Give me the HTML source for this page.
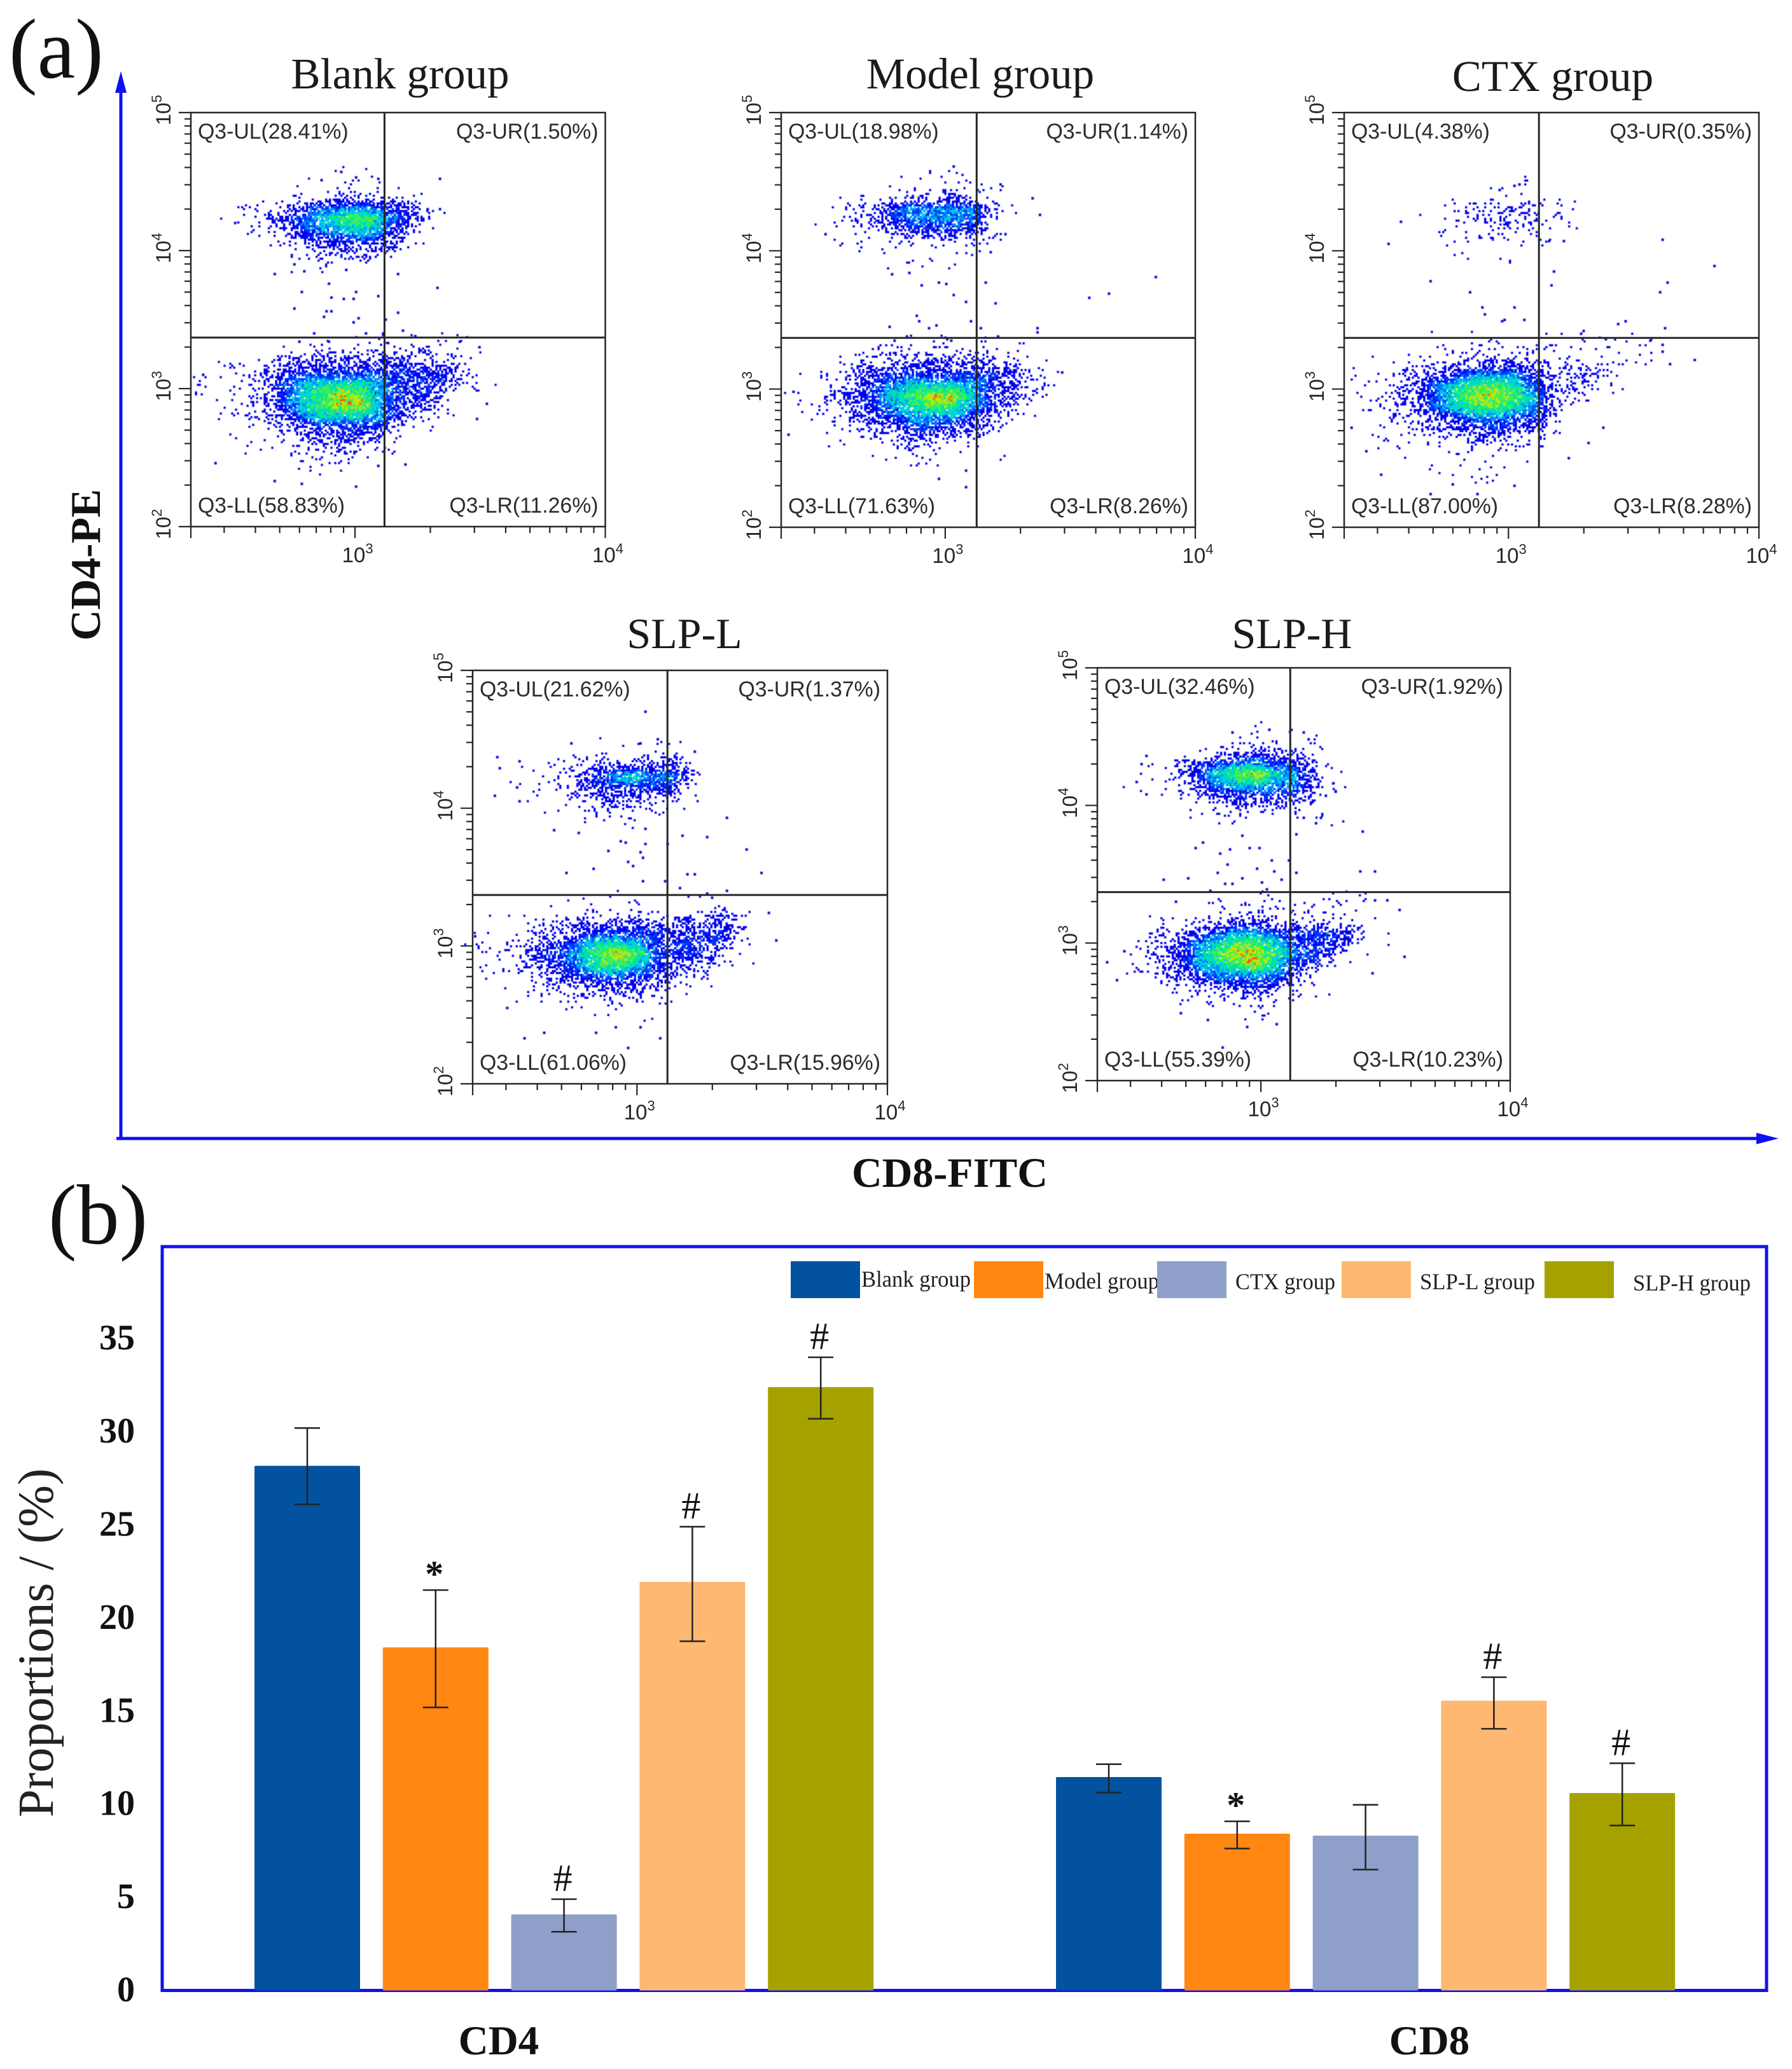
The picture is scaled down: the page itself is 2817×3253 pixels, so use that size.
<!DOCTYPE html>
<html lang="en">
<head>
<meta charset="utf-8">
<title>CD4 and CD8 flow cytometry proportions</title>
<style>
html,body{margin:0;padding:0;background:#fff;width:2817px;height:3253px;overflow:hidden}
svg{display:block}
.serif{font-family:"Liberation Serif",serif}
.sans{font-family:"Liberation Sans",sans-serif}
</style>
</head>
<body>
<svg id="root" xmlns="http://www.w3.org/2000/svg" width="2817" height="3253" viewBox="0 0 2817 3253">
<defs><filter id="soft" x="-2%" y="-2%" width="104%" height="104%"><feGaussianBlur stdDeviation="0.6"/></filter></defs>
<rect x="0" y="0" width="2817" height="3253" fill="#fff"/>
<text class="serif" x="14" y="122" font-size="134" fill="#111">(a)</text>
<text class="serif" x="76" y="1955" font-size="134" fill="#111">(b)</text>

<g fill="#0f0ff0" stroke="none">
<rect x="187.5" y="140" width="5" height="1652"/>
<polygon points="190,112 181,146 199,146"/>
<rect x="183" y="1787.5" width="2585" height="5"/>
<polygon points="2796,1790 2761,1781 2761,1799"/>
</g>
<text class="serif" font-weight="bold" font-size="67" fill="#111" text-anchor="middle" transform="translate(157 888) rotate(-90)">CD4-PE</text>
<text class="serif" font-weight="bold" font-size="66" fill="#111" text-anchor="middle" x="1493" y="1866">CD8-FITC</text>

<text class="serif" font-size="69" fill="#1a1a1a" text-anchor="middle" x="629" y="139">Blank group</text>
<text class="serif" font-size="69" fill="#1a1a1a" text-anchor="middle" x="1541" y="139">Model group</text>
<text class="serif" font-size="69" fill="#1a1a1a" text-anchor="middle" x="2441" y="143">CTX group</text>
<text class="serif" font-size="68" fill="#1a1a1a" text-anchor="middle" x="1076" y="1019">SLP-L</text>
<text class="serif" font-size="68" fill="#1a1a1a" text-anchor="middle" x="2031" y="1019">SLP-H</text>

<g id="scatter-layer"></g>

<rect x="255" y="1960" width="2522" height="1169.5" fill="none" stroke="#1010ee" stroke-width="5"/>
<g id="bar-layer"></g>
<g id="legend-layer"></g>
<text class="serif" font-size="79" fill="#222" text-anchor="middle" transform="translate(83 2583) rotate(-90)">Proportions / (%)</text>
</svg>

<script>
/* ---------- bar chart values ---------- */
const barGroups = ['CD4', 'CD8'];
const seriesNames = ['Blank group', 'Model group', 'CTX group', 'SLP-L group', 'SLP-H group'];
const seriesColors = ['#03529f', '#ff8712', '#8e9fca', '#feb871', '#a5a200'];
const cd4Means = [28.17, 18.42, 4.08, 21.94, 32.4];
const cd4ErrUpper = [30.2, 21.5, 4.9, 24.9, 34.0];
const cd4ErrLower = [26.1, 15.2, 3.15, 18.75, 30.7];
const cd4Marks = ['', '*', '#', '#', '#'];
const cd8Means = [11.46, 8.42, 8.31, 15.56, 10.6];
const cd8ErrUpper = [12.15, 9.08, 9.97, 16.82, 12.2];
const cd8ErrLower = [10.62, 7.62, 6.49, 14.05, 8.86];
const cd8Marks = ['', '*', '', '#', '#'];
const proportionTicks = [0, 5, 10, 15, 20, 25, 30, 35];

/* ---------- flow panels: quadrant percentages [UL, UR, LL, LR] ---------- */
const blankQuadrants = ['28.41', '1.50', '58.83', '11.26'];
const modelQuadrants = ['18.98', '1.14', '71.63', '8.26'];
const ctxQuadrants = ['4.38', '0.35', '87.00', '8.28'];
const slpLQuadrants = ['21.62', '1.37', '61.06', '15.96'];
const slpHQuadrants = ['32.46', '1.92', '55.39', '10.23'];

/* Density level (0-9) of events per log10 bin.
   Lower cloud rows: log10 CD4 3.32..2.36, columns: log10 CD8 2.40..3.52.
   Upper cloud rows: log10 CD4 4.56..3.92, columns: log10 CD8 2.48..3.44. */
const blankLowerDensity = [
[0,0,0,0,0,0,1,1,1,1,1,1,1,1,0],
[0,0,0,0,1,1,2,2,2,2,2,2,1,1,0],
[0,1,1,1,3,3,4,4,4,4,4,3,3,2,1],
[1,1,2,3,4,5,5,5,5,5,5,5,5,3,1],
[1,1,2,3,5,6,7,7,7,6,5,5,5,3,1],
[1,1,2,3,5,7,8,9,8,6,5,5,3,1,1],
[0,1,2,3,5,7,8,9,9,6,5,4,2,1,0],
[0,1,2,3,4,6,7,7,7,6,4,2,1,0,0],
[0,0,1,2,3,4,5,5,5,5,2,1,0,0,0],
[0,0,1,1,2,3,4,4,4,3,1,0,0,0,0],
[0,0,0,1,1,2,2,3,2,1,0,0,0,0,0],
[0,0,0,0,1,1,1,2,1,1,0,0,0,0,0],
[0,0,0,0,0,1,1,1,1,0,0,0,0,0,0]];
const blankUpperDensity = [
[0,0,0,0,0,1,1,1,0,0,0,0,0],
[0,0,0,0,1,1,1,1,1,0,0,0,0],
[0,0,0,1,2,2,3,3,2,1,0,0,0],
[0,1,2,3,5,6,6,6,5,4,1,0,0],
[1,2,4,5,6,7,8,8,6,5,1,0,0],
[0,1,3,4,6,6,7,7,5,3,1,0,0],
[0,0,1,3,4,5,5,5,4,2,0,0,0],
[0,0,0,1,2,3,3,3,3,1,0,0,0],
[0,0,0,1,1,2,2,1,1,0,0,0,0]];
const modelLowerDensity = [
[0,0,0,0,1,1,1,1,1,1,1,0,0,0,0],
[0,0,0,1,1,2,2,2,2,2,2,1,1,0,0],
[0,0,1,2,3,3,4,4,4,4,3,2,1,1,0],
[0,1,2,3,4,5,5,5,5,5,5,4,3,1,0],
[1,1,2,4,5,6,7,7,7,6,5,4,2,1,0],
[1,1,3,4,5,7,8,9,9,7,5,4,2,0,0],
[1,1,2,4,5,6,7,8,8,6,5,3,1,0,0],
[0,1,2,3,4,5,6,6,6,5,3,2,0,0,0],
[0,0,1,2,3,3,5,5,4,4,2,1,0,0,0],
[0,0,1,1,2,2,3,3,3,2,1,0,0,0,0],
[0,0,0,0,1,1,2,1,1,1,1,0,0,0,0],
[0,0,0,0,0,1,1,1,0,0,0,0,0,0,0],
[0,0,0,0,0,0,0,0,0,0,0,0,0,0,0]];
const modelUpperDensity = [
[0,0,0,0,0,0,1,1,0,0,0,0,0],
[0,0,0,0,1,1,1,1,1,1,0,0,0],
[0,0,1,1,2,3,3,3,2,1,0,0,0],
[0,1,2,3,5,6,6,6,6,3,1,0,0],
[0,1,2,3,5,6,6,6,6,3,1,0,0],
[0,1,1,2,4,5,5,5,5,2,0,0,0],
[0,1,1,1,2,2,2,2,2,1,0,0,0],
[0,0,0,1,1,1,1,1,1,1,0,0,0],
[0,0,0,0,1,1,1,1,0,0,0,0,0]];
const ctxLowerDensity = [
[0,0,0,0,1,1,1,1,1,1,1,1,1,1,1],
[0,0,0,1,1,1,2,2,2,1,1,1,1,1,1],
[0,1,1,2,2,3,4,4,4,3,2,2,2,2,1],
[1,1,2,3,4,5,6,6,6,4,3,3,3,1,0],
[1,1,3,4,6,7,8,8,7,5,3,3,2,1,0],
[1,2,3,4,6,8,9,9,8,6,3,2,1,0,0],
[1,1,2,4,6,7,8,8,7,6,3,1,0,0,0],
[0,1,2,3,4,5,6,6,5,5,2,1,0,0,0],
[0,1,1,2,3,4,4,5,4,3,1,0,0,0,0],
[0,1,1,1,2,2,3,3,2,2,1,0,0,0,0],
[0,0,1,1,1,1,1,1,1,1,0,0,0,0,0],
[0,0,0,0,1,1,1,1,1,0,0,0,0,0,0],
[0,0,0,0,0,1,1,1,0,0,0,0,0,0,0]];
const ctxUpperDensity = [
[0,0,0,0,0,0,0,0,0,0,0,0,0],
[0,0,0,0,0,0,0,1,0,0,0,0,0],
[0,0,0,0,1,1,1,1,1,0,0,0,0],
[0,0,0,1,2,2,3,3,2,1,0,0,0],
[0,0,1,1,2,3,3,3,2,2,0,0,0],
[0,0,1,1,2,2,2,2,1,1,0,0,0],
[0,0,0,1,1,1,1,1,1,0,0,0,0],
[0,0,0,0,1,0,1,1,0,0,0,0,0],
[0,0,0,0,1,1,1,1,0,0,0,0,0]];
const slpLLowerDensity = [
[0,0,0,0,0,0,0,1,1,0,0,1,1,0,0],
[0,0,0,1,1,1,1,1,1,1,1,1,2,1,0],
[0,1,1,2,2,3,3,4,4,3,3,3,4,3,1],
[0,1,2,3,3,4,5,5,5,5,4,5,5,3,1],
[1,1,2,4,4,6,7,7,6,5,5,5,5,2,1],
[1,1,3,5,5,7,8,9,8,5,5,5,3,1,0],
[1,1,2,4,5,6,8,8,7,5,4,3,2,1,0],
[1,1,2,3,4,5,6,6,5,5,3,2,1,0,0],
[0,1,1,2,3,3,4,4,4,4,2,1,0,0,0],
[0,0,1,1,2,2,2,3,3,2,1,0,0,0,0],
[0,0,0,1,1,1,1,1,1,1,1,0,0,0,0],
[0,0,0,0,0,0,0,1,1,0,0,0,0,0,0],
[0,0,0,0,0,0,0,0,0,0,0,0,0,0,0]];
const slpLUpperDensity = [
[0,0,0,0,0,0,0,0,0,0,0,0,0],
[0,0,0,0,0,1,1,1,1,0,0,0,0],
[0,0,0,1,1,1,1,1,2,1,0,0,0],
[0,1,2,2,3,4,4,4,4,2,0,0,0],
[1,1,2,3,5,6,7,6,6,3,0,0,0],
[0,1,2,2,4,5,5,5,5,2,0,0,0],
[0,1,1,2,3,4,4,3,3,1,0,0,0],
[0,0,1,1,2,2,2,2,1,1,0,0,0],
[0,0,0,0,1,1,1,1,0,0,0,0,0]];
const slpHLowerDensity = [
[0,0,0,0,0,1,0,1,1,1,1,1,1,1,0],
[0,0,0,0,1,1,2,2,2,1,1,2,1,1,0],
[0,0,1,1,2,3,4,4,3,2,2,2,2,1,0],
[0,1,2,3,4,5,6,6,5,5,5,5,4,1,0],
[0,1,2,4,6,7,8,8,7,5,5,5,3,1,0],
[1,1,3,4,6,8,9,9,8,6,5,4,1,1,1],
[0,1,2,4,6,7,8,9,7,5,4,2,1,0,0],
[0,1,2,3,5,6,6,6,6,4,2,0,0,0,0],
[0,0,1,2,3,4,4,5,4,2,1,0,0,0,0],
[0,0,0,1,2,2,2,3,2,1,1,0,0,0,0],
[0,0,0,0,0,1,1,1,1,0,0,0,0,0,0],
[0,0,0,0,0,0,1,1,0,0,0,0,0,0,0],
[0,0,0,0,0,0,0,0,0,0,0,0,0,0,0]];
const slpHUpperDensity = [
[0,0,0,0,0,0,1,0,1,0,0,0,0],
[0,0,0,0,0,1,1,1,1,1,0,0,0],
[0,0,0,1,2,3,4,3,2,1,0,0,0],
[0,1,2,4,5,6,6,5,5,3,1,0,0],
[1,1,3,5,7,8,9,7,6,4,1,0,0],
[1,1,2,4,6,7,7,6,6,3,1,1,0],
[0,1,1,2,4,5,5,5,5,2,1,0,0],
[0,0,0,1,2,3,3,3,3,1,0,0,0],
[0,0,0,1,1,1,1,1,1,1,1,0,0]];

/* Isolated events as [log10 CD8, log10 CD4] */
const blankOutliers = [[2.93,4.57],[2.99,4.53],[3.33,4.52],[2.85,4.51],[3.08,4.52],[3.33,4.30],[3.28,4.30],[2.50,4.20],[2.66,3.83],[2.78,3.85],[2.95,3.86],[3.16,3.83],[2.74,3.90],[3.32,3.73],[2.88,3.76],[2.77,3.70],[2.99,3.70],[2.94,3.65],[2.98,3.65],[2.89,3.66],[3.08,3.67],[2.74,3.58],[2.87,3.56],[2.89,3.56],[2.86,3.52],[3.00,3.51],[2.98,3.48],[3.16,3.55],[3.11,3.50],[3.18,3.42],[2.82,3.40],[3.03,3.40],[3.23,3.38],[2.76,3.34],[2.88,3.34],[3.12,3.33],[3.41,3.34],[3.49,3.30],[3.52,2.89],[3.48,2.78],[2.37,3.10],[2.42,2.46],[2.66,2.33],[2.77,2.31],[2.99,2.29],[3.19,2.45],[3.08,2.44]];
const modelOutliers = [[3.02,4.61],[2.50,4.12],[3.84,3.81],[3.65,3.69],[3.57,3.66],[3.37,4.26],[3.34,4.38],[3.21,4.48],[3.19,3.62],[3.15,3.77],[3.07,3.63],[3.02,3.68],[2.89,3.75],[2.96,3.77],[2.99,3.76],[2.87,3.53],[2.88,3.49],[2.76,3.45],[2.92,3.44],[2.95,3.46],[3.09,3.49],[3.13,3.44],[3.36,3.44],[3.36,3.41],[3.20,3.38],[2.83,3.38],[2.78,3.35],[3.01,3.35],[3.17,3.99],[3.23,4.12],[2.77,3.83],[2.84,3.84],[2.37,2.98],[2.35,2.67],[2.96,2.35],[3.07,2.29],[3.46,3.12],[3.07,2.41]];
const ctxOutliers = [[3.03,4.48],[3.01,4.47],[2.95,4.44],[2.50,4.05],[2.55,4.21],[3.61,4.08],[3.82,3.89],[3.63,3.77],[3.60,3.70],[3.21,4.07],[3.15,4.07],[3.17,3.85],[3.16,3.75],[2.67,3.78],[2.83,3.70],[3.01,3.59],[2.88,3.59],[2.89,3.54],[2.96,3.49],[2.97,3.50],[3.05,3.50],[3.29,3.42],[3.28,3.40],[3.43,3.47],[3.46,3.49],[3.62,3.44],[3.74,3.21],[3.64,3.18],[3.56,3.35],[3.61,3.32],[3.61,3.27],[3.38,3.36],[3.31,2.61],[3.23,2.50],[3.37,2.72],[2.41,2.55],[2.47,2.38],[2.76,2.31],[3.01,2.30],[2.67,2.24],[2.86,2.24],[2.35,2.72]];
const slpLOutliers = [[3.02,4.70],[2.72,4.47],[3.07,4.50],[3.00,4.47],[3.22,4.41],[2.42,4.37],[2.43,4.29],[2.51,4.34],[2.41,4.09],[2.50,4.15],[2.51,4.05],[3.35,3.93],[2.65,3.84],[2.75,3.82],[3.27,3.79],[3.17,3.80],[3.43,3.70],[3.49,3.53],[3.19,3.52],[3.22,3.52],[3.16,3.42],[3.35,3.40],[3.27,3.38],[3.29,3.35],[3.10,3.47],[3.01,3.47],[2.70,3.53],[2.81,3.56],[2.87,3.69],[2.92,3.76],[2.94,3.75],[3.02,3.74],[3.00,3.68],[3.01,3.64],[2.95,3.61],[2.97,3.58],[3.02,3.85],[3.11,3.74],[2.33,3.07],[2.46,2.55],[2.61,2.37],[2.53,2.33],[2.82,2.37],[2.95,2.26],[3.08,2.33],[3.00,2.41],[2.90,2.41],[3.55,3.04],[3.52,3.24]];
const slpHOutliers = [[2.87,4.53],[3.02,4.55],[3.16,4.53],[3.18,4.48],[2.52,4.36],[2.48,4.17],[2.50,4.30],[2.52,4.08],[3.29,4.10],[3.28,4.16],[3.25,4.07],[3.23,3.91],[3.21,3.87],[3.16,3.91],[3.40,3.81],[3.13,3.79],[2.91,3.78],[2.75,3.73],[2.72,3.69],[2.86,3.68],[2.94,3.69],[2.98,3.69],[2.82,3.65],[3.03,3.60],[3.10,3.60],[2.85,3.57],[2.97,3.54],[3.04,3.52],[3.13,3.51],[3.39,3.52],[3.45,3.52],[2.81,3.51],[2.69,3.47],[2.59,3.46],[2.91,3.47],[2.99,3.44],[3.07,3.46],[2.84,3.43],[2.87,3.43],[2.78,3.38],[3.01,3.39],[2.64,3.30],[2.36,2.86],[2.40,2.73],[2.43,2.94],[3.57,2.90],[3.55,3.24],[3.50,3.31],[3.45,3.31],[3.44,2.78],[2.83,2.24],[2.93,2.39],[3.05,2.41],[2.77,2.44],[2.66,2.49]];

/* Quadrant gates, log10 CD8 / log10 CD4 */
const gateCd8 = [3.105, 3.113, 3.109, 3.109, 3.105];
const gateCd4 = [3.37, 3.37, 3.37, 3.37, 3.37];
const flowKeys = ['blank', 'model', 'ctx', 'slp-l', 'slp-h'];
const quadrantSets = [blankQuadrants, modelQuadrants, ctxQuadrants, slpLQuadrants, slpHQuadrants];
const lowerSets = [blankLowerDensity, modelLowerDensity, ctxLowerDensity, slpLLowerDensity, slpHLowerDensity];
const upperSets = [blankUpperDensity, modelUpperDensity, ctxUpperDensity, slpLUpperDensity, slpHUpperDensity];
const outlierSets = [blankOutliers, modelOutliers, ctxOutliers, slpLOutliers, slpHOutliers];

/* ---------- layout (not data) ---------- */
const NS = 'http://www.w3.org/2000/svg';
const panelBoxes = [
  {l:300, r:951.5, t:177, b:828},
  {l:1228, r:1879, t:177, b:829},
  {l:2113, r:2765, t:177, b:829},
  {l:743, r:1395, t:1054, b:1704},
  {l:1725, r:2374, t:1050, b:1699}
];
/* per-panel registration of the density grid bins (log10 units) */
const lowerGridShiftX = [-0.03, -0.035, -0.02, -0.05, 0];
const lowerGridShiftY = [0.05, 0.035, 0.035, 0.035, 0.01];
const upperGridShiftX = [0, -0.03, 0, 0, 0];
const X_MIN = 2.344, X_MAX = 4, Y_MIN = 2, Y_MAX = 5;
const INK = '#262626';

function make(tag, attrs, parent, text) {
  const node = document.createElementNS(NS, tag);
  for (const k in attrs) node.setAttribute(k, attrs[k]);
  if (text !== undefined) node.textContent = text;
  parent.appendChild(node);
  return node;
}

/* Axis functions */
function xAxis(box) { return v => box.l + (v - X_MIN) / (X_MAX - X_MIN) * (box.r - box.l); }
function yAxis(box) { return v => box.t + (Y_MAX - v) / (Y_MAX - Y_MIN) * (box.b - box.t); }
/* values were read against a 2.32-based gridline; align them to the drawn decade ticks */
function calibrate(v) { return X_MIN + (v - 2.32) * (X_MAX - X_MIN) / 1.68; }

/* Rendering helpers: a density level becomes dot coverage via ordered noise (dither only) */
const coverage = [0, 0.03, 0.1, 0.24, 0.45, 0.68, 0.85, 0.95, 1, 1];
function dither(i, j, k) { const s = Math.sin(i * 12.9898 + j * 78.233 + k * 37.719) * 43758.5453; return s - Math.floor(s); }
function levelCoverage(v) {
  if (v <= 0) return 0;
  if (v >= 9) return 1;
  const a = Math.floor(v);
  return coverage[a] + (coverage[a + 1] - coverage[a]) * (v - a);
}
const dotBins = ['#0000ee', '#0038ff', '#008cff', '#00cfe6', '#00e890', '#48f040', '#c4e400', '#f05a00'];
function dotBin(t) {
  if (t < 5.2) return 0;
  if (t < 5.9) return 1;
  if (t < 6.5) return 2;
  if (t < 7.2) return 3;
  if (t < 8.0) return 4;
  if (t < 8.8) return 5;
  if (t < 9.5) return 6;
  return 7;
}
function sampleGrid(grid, gx, gy) {
  const rows = grid.length, cols = grid[0].length;
  if (gx < -0.9 || gy < -0.9 || gx > cols - 0.1 || gy > rows - 0.1) return 0;
  const x0 = Math.floor(gx), y0 = Math.floor(gy), fx = gx - x0, fy = gy - y0;
  const at = (r, c) => (r < 0 || c < 0 || r >= rows || c >= cols) ? 0 : grid[r][c];
  return at(y0, x0) * (1 - fx) * (1 - fy) + at(y0, x0 + 1) * fx * (1 - fy) + at(y0 + 1, x0) * (1 - fx) * fy + at(y0 + 1, x0 + 1) * fx * fy;
}

function drawCloud(grid, firstCd8, firstCd4, x, y, parent, seed) {
  const step = 0.08, cols = grid[0].length, rows = grid.length;
  const left = x(calibrate(firstCd8 - step)), right = x(calibrate(firstCd8 + step * cols));
  const top = y(firstCd4 + step), bottom = y(firstCd4 - step * rows);
  const paths = dotBins.map(() => []);
  const colW = x(calibrate(firstCd8 + step)) - x(calibrate(firstCd8));
  const rowH = y(firstCd4 - step) - y(firstCd4);
  const originX = x(calibrate(firstCd8)), originY = y(firstCd4);
  let j = 0;
  for (let py = top; py <= bottom; py += 3, j++) {
    let i = 0;
    for (let px = left; px <= right; px += 3, i++) {
      const v = sampleGrid(grid, (px - originX) / colW, (py - originY) / rowH);
      if (v <= 0.02) continue;
      if (dither(i, j, seed) > levelCoverage(v)) continue;
      const t = v + (dither(i, j, seed + 5) - 0.5) * 1.9;
      paths[dotBin(t)].push('M' + px.toFixed(1) + ' ' + py.toFixed(1) + 'h3.4v3.4h-3.4z');
    }
  }
  paths.forEach((segs, b) => {
    if (!segs.length) return;
    const mark = make('path', {d: segs.join(''), fill: dotBins[b]}, parent);
    
    
  });
}

function rotatedPower(parent, px, py, exponent, name) {
  const label = make('text', {class: 'sans', 'font-size': 32, fill: INK, 'text-anchor': 'middle', transform: 'translate(' + px + ' ' + py + ') rotate(-90)'}, parent);
  
  
  make('tspan', {}, label, '10');
  make('tspan', {'font-size': 22, dy: -14}, label, String(exponent));
}
function flatPower(parent, px, py, exponent, name) {
  const label = make('text', {class: 'sans', 'font-size': 33, fill: INK, 'text-anchor': 'middle', x: px, y: py}, parent);
  
  
  make('tspan', {}, label, '10');
  make('tspan', {'font-size': 22, dy: -14}, label, String(exponent));
}

const scatterLayer = document.getElementById('scatter-layer');
panelBoxes.forEach((box, p) => {
  const key = flowKeys[p];
  const x = xAxis(box), y = yAxis(box);
  const g = make('g', {}, scatterLayer);
  
  

  const dots = make('g', {filter: 'url(#soft)'}, g);
  
  
  drawCloud(lowerSets[p], 2.40 + lowerGridShiftX[p], 3.32 + lowerGridShiftY[p], x, y, dots, p * 3 + 1);
  drawCloud(upperSets[p], 2.48 + upperGridShiftX[p], 4.56, x, y, dots, p * 3 + 2);
  outlierSets[p].forEach(pt => {
    const dot = make('rect', {x: x(calibrate(pt[0])) - 2, y: y(pt[1]) - 2, width: 4, height: 4, fill: '#0a0ae0'}, dots);
    
    
  });

  const frame = make('rect', {x: box.l, y: box.t, width: box.r - box.l, height: box.b - box.t, fill: 'none', stroke: INK, 'stroke-width': 2.5}, g);
  
  

  const gateV = make('line', {x1: x(calibrate(gateCd8[p])), x2: x(calibrate(gateCd8[p])), y1: box.t, y2: box.b, stroke: INK, 'stroke-width': 3}, g);
  
  
  const gateH = make('line', {x1: box.l, x2: box.r, y1: y(gateCd4[p]), y2: y(gateCd4[p]), stroke: INK, 'stroke-width': 3}, g);
  
  

  /* log ticks */
  for (let d = 2; d <= 4; d++) {
    for (let k = 1; k <= 9; k++) {
      const lv = d + Math.log10(k);
      const major = k === 1;
      const tick = make('line', {x1: box.l - (major ? 19 : 10), x2: box.l, y1: y(lv), y2: y(lv), stroke: INK, 'stroke-width': 2.2}, g);
      
      
      if (lv > X_MIN && lv <= X_MAX) {
        const xt = make('line', {x1: x(lv), x2: x(lv), y1: box.b, y2: box.b + (major ? 18 : 10), stroke: INK, 'stroke-width': 2.2}, g);
        
        
      }
    }
  }
  const startTick = make('line', {x1: box.l, x2: box.l, y1: box.b, y2: box.b + 18, stroke: INK, 'stroke-width': 2.2}, g);
  
  
  const topTick = make('line', {x1: box.l - 19, x2: box.l, y1: y(5), y2: y(5), stroke: INK, 'stroke-width': 2.2}, g);
  
  

  [2, 3, 4, 5].forEach(e => rotatedPower(g, box.l - 32, y(e) - 4, e, 'y-tick-label'));
  [3, 4].forEach(e => flatPower(g, x(e) + 4, box.b + 56, e, 'x-tick-label'));

  const q = quadrantSets[p];
  const quadText = [
    {t: 'Q3-UL(' + q[0] + '%)', x: box.l + 11, y: box.t + 41, a: 'start', n: 'upper-left-percent'},
    {t: 'Q3-UR(' + q[1] + '%)', x: box.r - 11, y: box.t + 41, a: 'end', n: 'upper-right-percent'},
    {t: 'Q3-LL(' + q[2] + '%)', x: box.l + 11, y: box.b - 22, a: 'start', n: 'lower-left-percent'},
    {t: 'Q3-LR(' + q[3] + '%)', x: box.r - 11, y: box.b - 22, a: 'end', n: 'lower-right-percent'}
  ];
  quadText.forEach(o => {
    const label = make('text', {class: 'sans', 'font-size': 33.8, fill: '#2c2c2c', x: o.x, y: o.y, 'text-anchor': o.a}, g, o.t);
    
    
  });
});

/* ---------- bar chart ---------- */
const barLayer = document.getElementById('bar-layer');
const BASE_Y = 3129.5, UNIT = 29.28, BAR_W = 166, PITCH = 201.8;
const groupStarts = [400, 1660];
const groupCenters = [784, 2247];
function barY(v) { return BASE_Y - v * UNIT; }
function barX(group, i) { return groupStarts[group] + i * PITCH; }

proportionTicks.forEach(v => {
  const label = make('text', {class: 'serif', 'font-weight': 'bold', 'font-size': 56, fill: '#111', 'text-anchor': 'end', x: 212, y: barY(v) + 17}, barLayer, String(v));
  
  
});

const groupData = [
  {means: cd4Means, up: cd4ErrUpper, lo: cd4ErrLower, marks: cd4Marks},
  {means: cd8Means, up: cd8ErrUpper, lo: cd8ErrLower, marks: cd8Marks}
];
groupData.forEach((gd, gi) => {
  const name = barGroups[gi].toLowerCase();
  gd.means.forEach((v, i) => {
    const left = barX(gi, i), cx = left + BAR_W / 2;
    const bar = make('rect', {x: left, y: barY(v), width: BAR_W, height: BASE_Y - barY(v), rx: 2, fill: seriesColors[i]}, barLayer);
    
    
    const stem = make('line', {x1: cx, x2: cx, y1: barY(gd.up[i]), y2: barY(gd.lo[i]), stroke: '#222', 'stroke-width': 2.5}, barLayer);
    
    
    [gd.up[i], gd.lo[i]].forEach(e => {
      const cap = make('line', {x1: cx - 20, x2: cx + 20, y1: barY(e), y2: barY(e), stroke: '#222', 'stroke-width': 2.5}, barLayer);
      
      
    });
    const m = gd.marks[i];
    if (m) {
      const star = m === '*';
      const sig = make('text', {class: 'serif', 'font-weight': star ? 'bold' : 'normal', 'font-size': star ? 58 : 60, fill: '#111', 'text-anchor': 'middle', x: cx - 2, y: barY(gd.up[i]) - (star ? 6 : 13)}, barLayer, m);
      
      
    }
  });
  const cat = make('text', {class: 'serif', 'font-weight': 'bold', 'font-size': 65, fill: '#111', 'text-anchor': 'middle', x: groupCenters[gi], y: 3230}, barLayer, barGroups[gi]);
  
  
});

/* ---------- legend ---------- */
const legendLayer = document.getElementById('legend-layer');
const legendSwatchX = [1243, 1531, 1819, 2109, 2428];
const legendTextX = [1354, 1642, 1942, 2232, 2567];
const legendTextW = [172, 180, 157, 181, 185];
const legendTextY = [2023, 2026, 2027, 2027, 2029];
seriesNames.forEach((s, i) => {
  const swatch = make('rect', {x: legendSwatchX[i], y: 1983, width: 109, height: 58, fill: seriesColors[i]}, legendLayer);
  
  
  const label = make('text', {class: 'serif', 'font-size': 36, fill: '#222', x: legendTextX[i], y: legendTextY[i], textLength: legendTextW[i], lengthAdjust: 'spacingAndGlyphs'}, legendLayer, s);
  
  
});
</script>
</body>
</html>
